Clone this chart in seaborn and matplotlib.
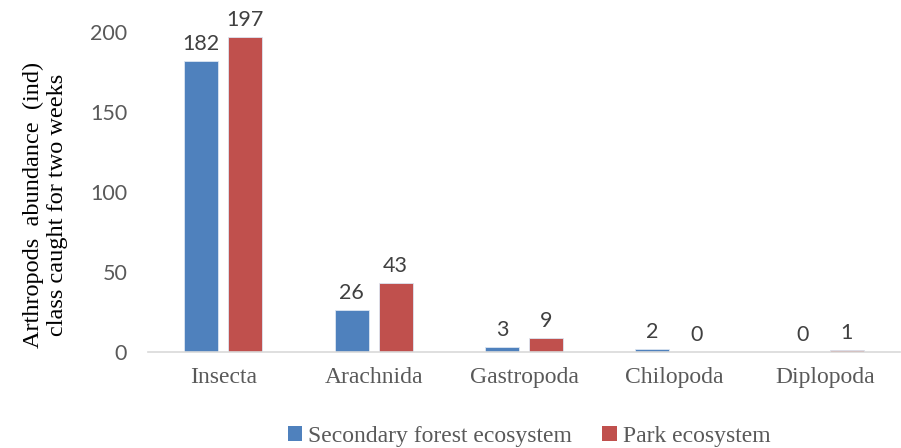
import matplotlib
matplotlib.use("Agg")
import matplotlib.pyplot as plt
import seaborn as sns
import pandas as pd
from matplotlib.patches import Patch

categories = ["Insecta", "Arachnida", "Gastropoda", "Chilopoda", "Diplopoda"]
secondary = [182, 26, 3, 2, 0]
park = [197, 43, 9, 0, 1]
series_names = ["Secondary forest ecosystem", "Park ecosystem"]
colors = ["#4F81BD", "#C0504D"]
yticks = [0, 50, 100, 150, 200]

df = pd.DataFrame({
    "Class": categories * 2,
    "Value": secondary + park,
    "Series": [series_names[0]] * len(categories) + [series_names[1]] * len(categories),
})

sns.set_theme(style="white")
plt.rcParams["font.family"] = ["Liberation Serif", "DejaVu Serif"]

fig = plt.figure(figsize=(9.01, 4.48), dpi=100)
ax = fig.add_axes([148 / 901, 1 - 352 / 448, 752 / 901, 320 / 448])

sns.barplot(data=df, x="Class", y="Value", hue="Series", palette=colors,
            saturation=1, width=0.585, gap=0.227, ax=ax, legend=False,
            edgecolor="#DCE6F2", linewidth=0.6)

ax.set_ylim(0, 200)
ax.set_xlim(-0.5, 4.5)
ax.set_yticks(yticks)
ax.set_yticklabels([str(t) for t in yticks], fontfamily="Lato", fontsize=15.5, color="#595959")
ax.tick_params(axis="y", length=0, pad=15)
ax.tick_params(axis="x", length=0, pad=11)
for lab in ax.get_xticklabels():
    lab.set_fontfamily("Liberation Serif")
    lab.set_fontsize(17)
    lab.set_color("#595959")

for s in ["top", "right", "left"]:
    ax.spines[s].set_visible(False)
ax.spines["bottom"].set_color("#D9D9D9")
ax.spines["bottom"].set_linewidth(1.2)
ax.set_xlabel("")
ax.set_ylabel("Arthropods  abundance  (ind)\nclass caught for two weeks",
              fontsize=17.5, color="black", linespacing=1.2)
ax.yaxis.set_label_coords(-0.106, 0.46)

for cont in ax.containers:
    ax.bar_label(cont, padding=5, fontsize=15.5, color="#404040", fontfamily="Lato",
                 clip_on=False)

handles = [Patch(facecolor=c, edgecolor="none") for c in colors]
fig.legend(handles, series_names, loc="center", bbox_to_anchor=(529 / 901, 1 - 436 / 448),
           ncol=2, frameon=False, fontsize=17, handlelength=0.6, handleheight=0.6,
           handletextpad=0.25, columnspacing=1.3, labelcolor="#595959", borderpad=0)

fig.savefig("out.png", dpi=100)
